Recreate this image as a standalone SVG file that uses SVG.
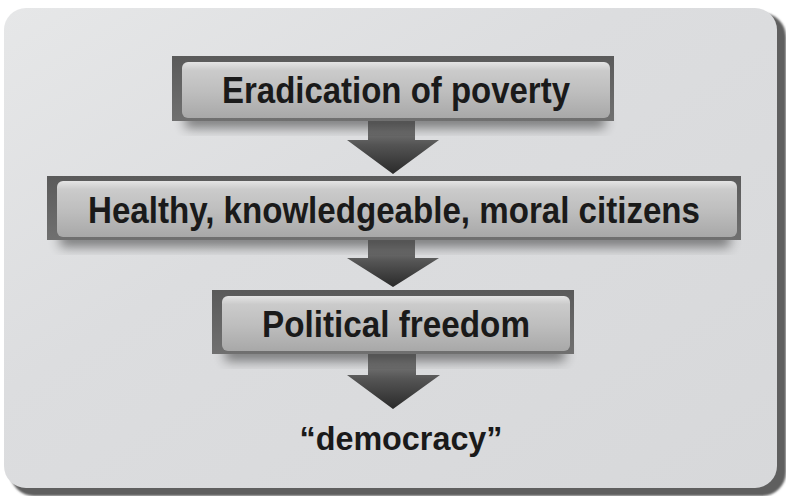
<svg xmlns="http://www.w3.org/2000/svg" width="786" height="496" viewBox="0 0 786 496">
<defs>
<linearGradient id="panel" x1="0" y1="0" x2="1" y2="1">
<stop offset="0" stop-color="#e6e7e8"/>
<stop offset="0.4" stop-color="#dcdddf"/>
<stop offset="1" stop-color="#d7d8da"/>
</linearGradient>
<linearGradient id="inner" x1="0" y1="0" x2="0" y2="1">
<stop offset="0" stop-color="#e4e4e4"/>
<stop offset="0.15" stop-color="#cbcbcb"/>
<stop offset="0.55" stop-color="#bdbdbd"/>
<stop offset="1" stop-color="#a8a8a8"/>
</linearGradient>
<linearGradient id="frame" x1="0" y1="0" x2="0" y2="1">
<stop offset="0" stop-color="#5a5a5a"/>
<stop offset="1" stop-color="#707070"/>
</linearGradient>
<linearGradient id="arrowG" x1="0" y1="0" x2="0" y2="1">
<stop offset="0" stop-color="#8a8a8a"/>
<stop offset="0.45" stop-color="#555"/>
<stop offset="1" stop-color="#2a2a2a"/>
</linearGradient>
<filter id="blur" x="-10%" y="-50%" width="120%" height="200%">
<feGaussianBlur stdDeviation="6"/>
</filter>
<filter id="pblur" x="-5%" y="-5%" width="110%" height="110%">
<feGaussianBlur stdDeviation="0.8"/>
</filter>
</defs>
<style>
.lbl{font-family:"Liberation Sans",Arial,sans-serif;font-weight:bold;fill:#1a1a1a;text-anchor:middle}
.frame{fill:url(#frame)}
.inner{fill:url(#inner)}
.shadow{fill:#000;opacity:0.45;filter:url(#blur)}
.arrow{fill:url(#arrowG)}
</style>
<rect width="786" height="496" fill="#ffffff"/>
<g id="panel">
<rect x="10" y="13" width="776" height="483" rx="24" fill="#5e5e5e" filter="url(#pblur)"/>
<rect x="4" y="8" width="773" height="480" rx="22" fill="url(#panel)"/>
</g>
<g id="connectors">
<path class="arrow" d="M368,120 H415 V140 H439 L393,174 L347,140 H368 Z"/>
<path class="arrow" d="M368,240 H415 V258 H439 L393,287 L347,258 H368 Z"/>
<path class="arrow" d="M368,354 H416 V375 H440 L393,409 L347,375 H368 Z"/>
</g>
<g id="node1">
<rect class="shadow" x="185" y="112" width="420" height="16"/>
<rect class="frame" x="172" y="56" width="442" height="65"/>
<rect class="inner" x="182" y="62" width="428" height="56" rx="6"/>
<text class="lbl" x="396" y="103" font-size="36" textLength="348" lengthAdjust="spacingAndGlyphs">Eradication of poverty</text>
</g>
<g id="node2">
<rect class="shadow" x="60" y="231" width="670" height="16"/>
<rect class="frame" x="47" y="176" width="694" height="64"/>
<rect class="inner" x="57" y="181" width="680" height="56" rx="6"/>
<text class="lbl" x="394" y="223" font-size="36" textLength="612" lengthAdjust="spacingAndGlyphs">Healthy, knowledgeable, moral citizens</text>
</g>
<g id="node3">
<rect class="shadow" x="225" y="345" width="340" height="16"/>
<rect class="frame" x="212" y="290" width="362" height="64"/>
<rect class="inner" x="222" y="296" width="348" height="55" rx="6"/>
<text class="lbl" x="396" y="337" font-size="36" textLength="268" lengthAdjust="spacingAndGlyphs">Political freedom</text>
</g>
<g id="node4">
<text class="lbl" x="401" y="450" font-size="33" textLength="203" lengthAdjust="spacingAndGlyphs">“democracy”</text>
</g>
</svg>
